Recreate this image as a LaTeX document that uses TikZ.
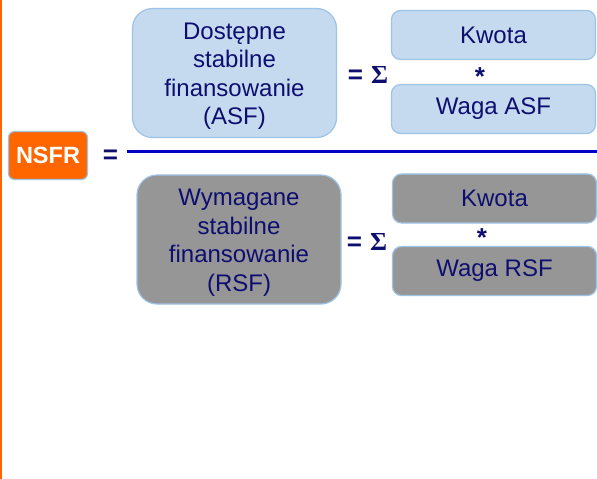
\documentclass[tikz,border=0pt]{standalone}
\usepackage{fontspec}
\setmainfont{Liberation Sans}
\newfontfamily\sigmafont{Liberation Serif}
\usepackage{xcolor}
\usepackage{tikz}
\usetikzlibrary{positioning}

\definecolor{nsfrorange}{RGB}{255,102,0}
\definecolor{asfblue}{RGB}{197,218,238}
\definecolor{edgeblue}{RGB}{157,195,230}
\definecolor{rsfgray}{RGB}{150,150,150}
\definecolor{inkblue}{RGB}{14,14,112}
\definecolor{barblue}{RGB}{0,0,200}

\begin{document}
\begin{tikzpicture}[
  x=1pt, y=-1pt,
  every node/.style={font=\fontsize{24}{28.5}\selectfont, text=inkblue},
  bigbox/.style={draw=edgeblue, line width=1.2pt, rounded corners=20pt,
                 minimum width=204pt, minimum height=129pt, align=center},
  smallbox/.style={draw=edgeblue, line width=1.2pt, rounded corners=9pt,
                   minimum width=204pt, minimum height=49pt},
  eqsign/.style={font=\fontsize{26}{28}\selectfont\bfseries},
]

%% ── Frame ───────────────────────────────────────────────────────────────────
\useasboundingbox (0,0) rectangle (597,479);
\fill[white] (0,0) rectangle (597,479);
\draw[nsfrorange, line width=1.5pt] (0.75,0) -- (0.75,479);

%% ── Left side ───────────────────────────────────────────────────────────────
\node[draw=edgeblue, line width=1.2pt, fill=nsfrorange, rounded corners=6pt,
      minimum width=79pt, minimum height=48pt, text=white,
      font=\fontsize{23.5}{26}\selectfont\bfseries] (nsfr) at (48,155.5) {NSFR};
\node[eqsign] (eqmain) at (110.5,157) {=};

%% ── Fraction bar ────────────────────────────────────────────────────────────
\coordinate (barL) at (127,151.5);
\coordinate (barR) at (597,151.5);
\draw[barblue, line width=3pt] (barL) -- (barR);

%% ── Numerator: ASF ──────────────────────────────────────────────────────────
\node[bigbox, fill=asfblue] (asf) at (234.5,73)
  {\rule{0pt}{23pt}Dostępne\\stabilne\\finansowanie\\(ASF)};
\node[eqsign] (sumasf) at (368,75) {=\hspace{8pt}{\sigmafont Σ}};
\node[smallbox, fill=asfblue] (kwotaasf) at (493.5,35) {Kwota};
\node[eqsign] (timesasf) at (480,77) {*};
\node[smallbox, fill=asfblue] (wagaasf) at (493.5,109) {Waga ASF};

%% ── Denominator: RSF ────────────────────────────────────────────────────────
\node[bigbox, fill=rsfgray] (rsf) at (239,239.5)
  {\rule{0pt}{23pt}Wymagane\\stabilne\\finansowanie\\(RSF)};
\node[eqsign] (sumrsf) at (367,242) {=\hspace{8pt}{\sigmafont Σ}};
\node[smallbox, fill=rsfgray] (kwotarsf) at (494.5,198.5) {Kwota};
\node[eqsign] (timesrsf) at (482,238) {*};
\node[smallbox, fill=rsfgray] (wagarsf) at (494.5,271) {Waga RSF};

\end{tikzpicture}
\end{document}
